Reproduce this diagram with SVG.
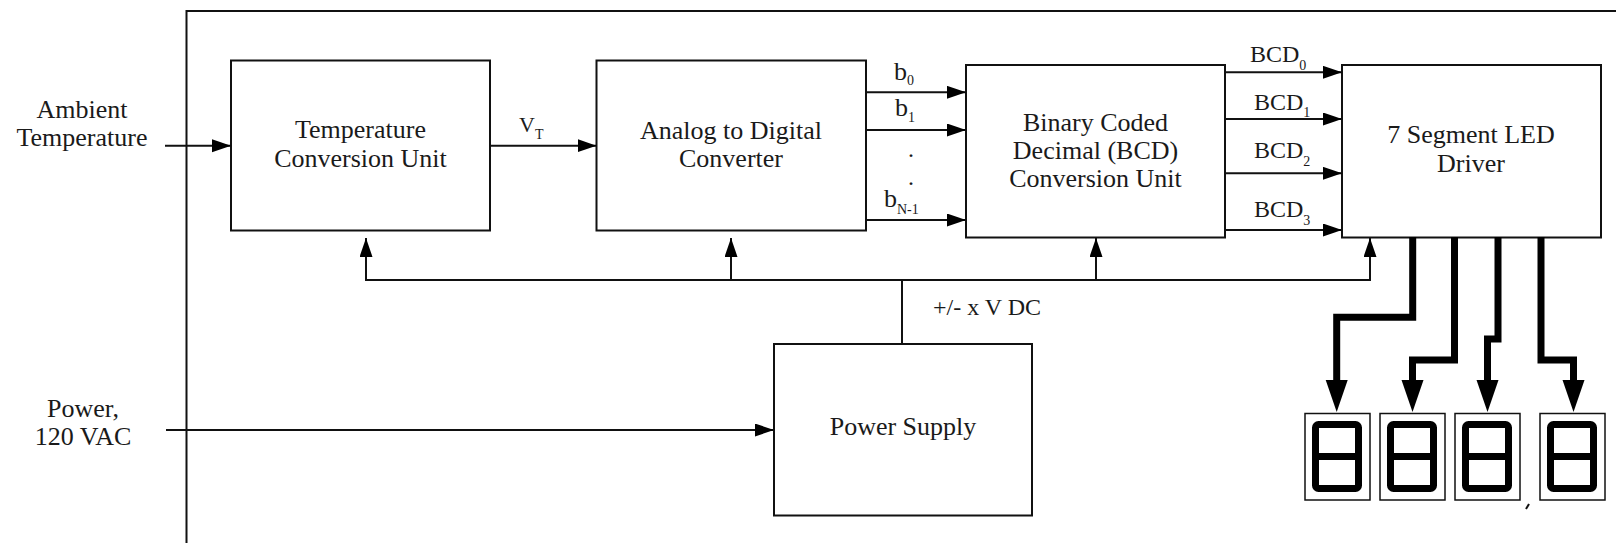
<svg xmlns="http://www.w3.org/2000/svg" width="1616" height="543" viewBox="0 0 1616 543">
<style>
  .box { fill: #fff; stroke: #111; stroke-width: 2; }
  .ln { fill: none; stroke: #111; stroke-width: 2; }
  .thick { fill: none; stroke: #000; stroke-width: 7; stroke-linejoin: miter; }
  .t { font-family: "Liberation Serif", "DejaVu Serif", serif; font-size: 26px; fill: #1a1a1a; text-anchor: middle; }
  .s { font-family: "Liberation Serif", "DejaVu Serif", serif; font-size: 24px; fill: #1a1a1a; }
  .sub { font-size: 14px; }
  .digit { fill: none; stroke: #000; stroke-width: 7; }
  .dbox { fill: #fff; stroke: #111; stroke-width: 1.5; }
  .head { fill: #000; }
</style>
<defs>
  <marker id="arr" markerUnits="userSpaceOnUse" markerWidth="20" markerHeight="14" refX="19" refY="6.5" orient="auto">
    <path d="M0,0 L19,6.5 L0,13 Z" fill="#000"/>
  </marker>
</defs>
<rect width="1616" height="543" fill="#fff"/>

<!-- frame -->
<path class="ln" d="M186.5,543 V11 H1616"/>

<!-- external labels -->
<text class="t" x="82" y="118">Ambient</text>
<text class="t" x="82" y="146">Temperature</text>
<text class="t" x="83" y="417">Power,</text>
<text class="t" x="83" y="445">120 VAC</text>

<g id="tcu">
  <rect class="box" x="231" y="60.5" width="259" height="170"/>
  <text class="t" x="360.5" y="138">Temperature</text>
  <text class="t" x="360.5" y="167">Conversion Unit</text>
</g>
<g id="adc">
  <rect class="box" x="596.5" y="60.5" width="269.5" height="170"/>
  <text class="t" x="731" y="139">Analog to Digital</text>
  <text class="t" x="731" y="167">Converter</text>
</g>
<g id="bcd">
  <rect class="box" x="966" y="65" width="259" height="172.5"/>
  <text class="t" x="1095.5" y="131">Binary Coded</text>
  <text class="t" x="1095.5" y="158.5">Decimal (BCD)</text>
  <text class="t" x="1095.5" y="186.5">Conversion Unit</text>
</g>
<g id="led">
  <rect class="box" x="1342" y="65" width="259" height="172.5"/>
  <text class="t" x="1471" y="143">7 Segment LED</text>
  <text class="t" x="1471" y="172">Driver</text>
</g>
<g id="psu">
  <rect class="box" x="774" y="344" width="258" height="171.5"/>
  <text class="t" x="903" y="435">Power Supply</text>
</g>

<g id="connectors">
  <line class="ln" x1="165" y1="145.7" x2="231" y2="145.7" marker-end="url(#arr)"/>
  <line class="ln" x1="490" y1="145.7" x2="596.5" y2="145.7" marker-end="url(#arr)"/>
  <line class="ln" x1="866" y1="92.3" x2="966" y2="92.3" marker-end="url(#arr)"/>
  <line class="ln" x1="866" y1="130" x2="966" y2="130" marker-end="url(#arr)"/>
  <line class="ln" x1="866" y1="220" x2="966" y2="220" marker-end="url(#arr)"/>
  <line class="ln" x1="1225" y1="72.3" x2="1342" y2="72.3" marker-end="url(#arr)"/>
  <line class="ln" x1="1225" y1="119" x2="1342" y2="119" marker-end="url(#arr)"/>
  <line class="ln" x1="1225" y1="173.3" x2="1342" y2="173.3" marker-end="url(#arr)"/>
  <line class="ln" x1="1225" y1="230" x2="1342" y2="230" marker-end="url(#arr)"/>
  <!-- power bus -->
  <line class="ln" x1="366" y1="280" x2="1371" y2="280"/>
  <line class="ln" x1="366" y1="281" x2="366" y2="238" marker-end="url(#arr)"/>
  <line class="ln" x1="731" y1="281" x2="731" y2="238" marker-end="url(#arr)"/>
  <line class="ln" x1="1096" y1="281" x2="1096" y2="238" marker-end="url(#arr)"/>
  <line class="ln" x1="1370" y1="281" x2="1370" y2="238" marker-end="url(#arr)"/>
  <line class="ln" x1="902" y1="280" x2="902" y2="344"/>
  <line class="ln" x1="166" y1="430" x2="774" y2="430" marker-end="url(#arr)"/>
  <!-- thick display lines -->
  <path class="thick" d="M1412.7,237 V317.3 H1336.7 V381"/>
  <path class="head" d="M1325.7,380 H1347.7 L1336.7,412 Z"/>
  <path class="thick" d="M1454.5,237 V360 H1412.5 V381"/>
  <path class="head" d="M1401.5,380 H1423.5 L1412.5,412 Z"/>
  <path class="thick" d="M1498,237 V339 H1487.5 V381"/>
  <path class="head" d="M1476.5,380 H1498.5 L1487.5,412 Z"/>
  <path class="thick" d="M1541,237 V360 H1573.5 V381"/>
  <path class="head" d="M1562.5,380 H1584.5 L1573.5,412 Z"/>
</g>

<!-- connector labels -->
<text class="s" x="519" y="132" style="font-size:22px">V<tspan class="sub" y="139">T</tspan></text>
<text class="s" x="894" y="80" style="font-size:26px">b<tspan class="sub" y="85">0</tspan></text>
<text class="s" x="895" y="116" style="font-size:26px">b<tspan class="sub" y="122">1</tspan></text>
<text class="s" x="908" y="157">.</text>
<text class="s" x="908" y="185">.</text>
<text class="s" x="884" y="207" style="font-size:26px">b<tspan class="sub" y="214">N-1</tspan></text>
<text class="s" x="1250" y="62">BCD<tspan class="sub" y="70">0</tspan></text>
<text class="s" x="1254" y="110">BCD<tspan class="sub" y="117">1</tspan></text>
<text class="s" x="1254" y="158">BCD<tspan class="sub" y="166">2</tspan></text>
<text class="s" x="1254" y="217">BCD<tspan class="sub" y="225">3</tspan></text>
<text class="s" x="933" y="315">+/- x V DC</text>

<!-- seven segment displays -->
<g id="digit1">
  <rect class="dbox" x="1305" y="413.5" width="65" height="86.5"/>
  <rect class="digit" x="1315.5" y="424.5" width="43" height="64" rx="3"/>
  <line class="digit" x1="1315.5" y1="456.5" x2="1358.5" y2="456.5"/>
</g>
<g id="digit2">
  <rect class="dbox" x="1380" y="413.5" width="65" height="86.5"/>
  <rect class="digit" x="1390.5" y="424.5" width="43" height="64" rx="3"/>
  <line class="digit" x1="1390.5" y1="456.5" x2="1433.5" y2="456.5"/>
</g>
<g id="digit3">
  <rect class="dbox" x="1455" y="413.5" width="65" height="86.5"/>
  <rect class="digit" x="1465.5" y="424.5" width="43" height="64" rx="3"/>
  <line class="digit" x1="1465.5" y1="456.5" x2="1508.5" y2="456.5"/>
</g>
<g id="digit4">
  <rect class="dbox" x="1540" y="413.5" width="65" height="86.5"/>
  <rect class="digit" x="1550.5" y="424.5" width="43" height="64" rx="3"/>
  <line class="digit" x1="1550.5" y1="456.5" x2="1593.5" y2="456.5"/>
</g>
<line x1="1526" y1="509" x2="1529" y2="504" stroke="#111" stroke-width="2"/>
</svg>
